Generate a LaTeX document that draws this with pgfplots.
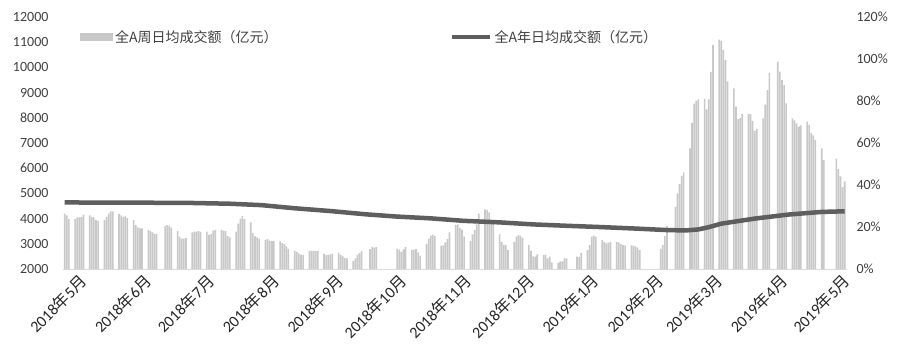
\documentclass[border=0pt]{standalone}
\usepackage{pgfplots}
\pgfplotsset{compat=1.18}
\usepackage{pgfplotstable}
\usepackage{fontspec}
\setmainfont{Carlito}
\newfontfamily\cjk{Noto Sans CJK SC}
\definecolor{barcol}{HTML}{C8C8C8}
\definecolor{linecol}{HTML}{5E5E5E}
\definecolor{txtcol}{HTML}{404040}
\definecolor{xtxtcol}{HTML}{262626}
\definecolor{axcol}{HTML}{D9D9D9}
\newcommand{\ym}[2]{#1{\cjk 年}#2{\cjk 月}}

\pgfplotstableread{
d v
1 4200
2 4130
3 3980
6 3980
7 4050
8 4050
9 4060
10 4160
13 4130
14 4070
15 4050
16 3940
17 3900
20 3940
21 4070
22 4200
23 4290
24 4290
27 4180
28 4130
29 4070
30 4110
31 4020
34 3940
35 3740
36 3650
37 3610
38 3610
41 3540
42 3500
43 3450
44 3390
45 3390
49 3710
50 3740
51 3710
52 3640
55 3500
56 3280
57 3210
58 3210
59 3230
62 3450
63 3480
64 3480
65 3500
66 3470
69 3480
70 3350
71 3380
72 3520
73 3540
76 3540
77 3520
78 3500
79 3300
80 3250
83 3480
84 3800
85 4000
86 4100
87 3980
90 3850
91 3420
92 3290
93 3250
94 3210
97 3170
98 3190
99 3130
100 3120
101 3120
104 3100
105 3030
106 2990
107 2900
108 2800
111 2720
112 2680
113 2620
114 2570
115 2550
118 2720
119 2710
120 2720
121 2720
122 2710
125 2600
126 2550
127 2560
128 2580
129 2600
132 2650
133 2560
134 2500
135 2440
136 2420
139 2320
140 2420
141 2560
142 2630
143 2720
147 2790
148 2880
149 2850
150 2870
160 2800
161 2770
162 2680
163 2780
164 2870
167 2760
168 2770
169 2790
170 2660
171 2530
174 3000
175 3200
176 3320
177 3360
178 3300
181 2920
182 2940
183 3060
184 3200
185 3450
188 3740
189 3770
190 3630
191 3560
192 3280
195 3110
196 3370
197 3540
198 3770
199 4200
202 4370
203 4340
204 4250
205 3900
206 3800
209 3370
210 3080
211 2960
212 2950
213 2750
216 3080
217 3280
218 3340
219 3320
220 3240
223 2950
224 2720
225 2500
226 2490
227 2580
230 2550
231 2570
232 2420
233 2490
234 2260
237 2240
238 2300
239 2300
240 2420
241 2420
246 2490
247 2470
248 2640
251 2750
252 2950
253 3280
254 3320
255 3280
258 3150
259 3080
260 3020
261 3050
262 3080
265 3080
266 3060
267 3000
268 2950
269 2940
272 2940
273 2920
274 2900
275 2850
276 2750
286 2800
287 2950
288 3300
289 3700
293 4470
294 5000
295 5380
296 5700
297 5830
300 6790
301 7800
302 8560
303 8680
304 8730
307 8750
308 8330
309 8730
310 9820
311 10880
314 11100
315 11050
316 10700
317 10290
318 9450
321 9170
322 8440
323 7950
324 8000
325 8150
328 8150
329 8150
330 7880
331 7480
332 7550
335 7980
336 8520
337 9100
338 9770
342 10230
343 9830
344 9500
345 9300
346 8575
349 7980
350 7900
351 7780
352 7650
353 7700
356 7850
357 7720
358 7400
359 7300
360 7120
363 6790
364 6325
370 6380
371 5960
372 5680
373 5250
374 5480
}\bars

\pgfplotstableread{
d v
1 4640
31 4635
62 4620
80 4590
95 4535
111 4410
128 4300
145 4170
160 4080
176 4010
192 3910
209 3850
225 3770
241 3715
257 3665
273 3608
289 3545
298 3530
304 3570
309 3660
315 3800
323 3900
331 4000
347 4160
363 4265
374 4290
}\yearavg

\begin{document}
\begin{tikzpicture}
\path[use as bounding box] (-63pt,-87pt) rectangle (837pt,269pt);
\begin{axis}[
  at={(0pt,0pt)}, anchor=south west,
  width=784pt, height=252pt, scale only axis,
  xmin=0.2, xmax=375.1, ymin=2000, ymax=12000,
  scaled y ticks=false, scaled x ticks=false,
  axis x line*=bottom, axis y line*=left,
  x axis line style={draw=axcol, line width=0.8pt, -},
  y axis line style={draw=none},
  major tick length=0pt,
  ytick={2000,3000,4000,5000,6000,7000,8000,9000,10000,11000,12000},
  yticklabels={2000,3000,4000,5000,6000,7000,8000,9000,10000,11000,12000},
  yticklabel style={font=\fontsize{14}{16}\selectfont, text=txtcol, xshift=-11pt},
  xtick={1,32,62,93,124,154,185,215,246,277,305,336,366},
  xticklabels={{\ym{2018}{5}},{\ym{2018}{6}},{\ym{2018}{7}},{\ym{2018}{8}},{\ym{2018}{9}},{\ym{2018}{10}},{\ym{2018}{11}},{\ym{2018}{12}},{\ym{2019}{1}},{\ym{2019}{2}},{\ym{2019}{3}},{\ym{2019}{4}},{\ym{2019}{5}}},
  xticklabel style={font=\fontsize{16}{18}\selectfont, text=xtxtcol, rotate=45, anchor=east, inner sep=0pt, xshift=7pt, yshift=-20pt},
  legend style={at={(axis description cs:0.0217,0.921)}, anchor=west, draw=none, fill=none, inner sep=0pt,
    nodes={inner sep=2pt, text=txtcol}, font=\cjk\fontsize{14}{16}\selectfont},
  legend cell align=left,
]
\addplot[ybar, bar width=1.6pt, fill=barcol, draw=none,
  legend image code/.code={\fill[barcol] (0pt,-4pt) rectangle (33pt,4pt);}]
  table[x=d, y=v]{\bars};
\addlegendentry{全A周日均成交额（亿元）}
\addplot[linecol, line width=4.5pt, no markers, forget plot] table[x=d, y=v]{\yearavg};
\end{axis}
\begin{axis}[
  at={(0pt,0pt)}, anchor=south west,
  width=784pt, height=252pt, scale only axis,
  xmin=0.2, xmax=375.1, ymin=0, ymax=1.2,
  scaled y ticks=false,
  axis x line=none, axis y line*=right,
  y axis line style={draw=none},
  major tick length=0pt,
  ytick={0,0.2,0.4,0.6,0.8,1,1.2},
  yticklabels={0\%,20\%,40\%,60\%,80\%,100\%,120\%},
  yticklabel style={font=\fontsize{14}{16}\selectfont, text=txtcol, xshift=6pt},
  legend style={at={(axis description cs:0.4936,0.921)}, anchor=west, draw=none, fill=none, inner sep=0pt,
    nodes={inner sep=2pt, text=txtcol}, font=\cjk\fontsize{14}{16}\selectfont},
  legend cell align=left,
]
\addlegendimage{linecol, line width=4.5pt, legend image code/.code={\draw[linecol, line width=4.5pt] (0pt,0pt) -- (38pt,0pt);}}
\addlegendentry{全A年日均成交额（亿元）}
\end{axis}
\end{tikzpicture}
\end{document}
